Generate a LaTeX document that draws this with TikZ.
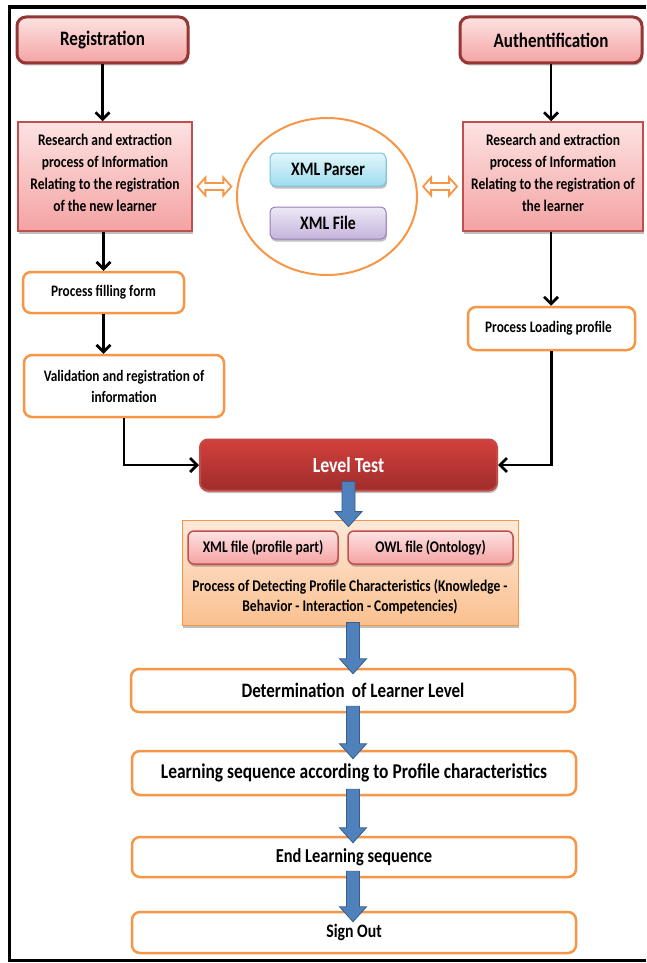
\documentclass[tikz,border=0pt]{standalone}
\usepackage{fontspec}
\setmainfont{Carlito}[FakeStretch=0.83]
\usetikzlibrary{arrows.meta,shapes.geometric,shadows,calc}

\definecolor{pinktop}{HTML}{FDE2E2}
\definecolor{pinkbot}{HTML}{F4A3A3}
\definecolor{darkred}{HTML}{943634}
\definecolor{redline}{HTML}{C0504D}
\definecolor{orangeline}{HTML}{F79646}
\definecolor{leveltop}{HTML}{D2403D}
\definecolor{levelbot}{HTML}{A02D2B}
\definecolor{levelline}{HTML}{C24A47}
\definecolor{peachtop}{HTML}{FDE9D9}
\definecolor{peachbot}{HTML}{FAC08F}
\definecolor{cyantop}{HTML}{E3F6FB}
\definecolor{cyanbot}{HTML}{9EDDEE}
\definecolor{cyanline}{HTML}{78C5DA}
\definecolor{lilactop}{HTML}{EEE8F6}
\definecolor{lilacbot}{HTML}{C4B4DC}
\definecolor{lilacline}{HTML}{9580B8}
\definecolor{arrowblue}{HTML}{4F81BD}
\definecolor{arrowedge}{HTML}{385D8A}

\tikzset{
  softshadow/.style={drop shadow={shadow xshift=1pt,shadow yshift=-2.5pt,opacity=0.25,fill=black}},
  headbox/.style={rounded corners=9pt, draw=darkred, line width=3pt,
    top color=pinktop, bottom color=pinkbot, softshadow,
    font=\fontsize{20.5}{24}\selectfont\bfseries, inner sep=0pt},
  resbox/.style={draw=redline, line width=1.5pt, top color=pinktop, bottom color=pinkbot,
    softshadow, align=center, font=\fontsize{16.2}{22}\selectfont\bfseries, inner sep=0pt},
  whitebox/.style={rounded corners=8pt, draw=orangeline, line width=2.5pt, fill=white,
    align=center, font=\fontsize{16}{21}\selectfont\bfseries, inner sep=0pt},
  widebox/.style={whitebox, font=\fontsize{20.5}{24}\selectfont\bfseries},
  levelbox/.style={rounded corners=8pt, draw=levelline, line width=2pt,
    top color=leveltop, bottom color=levelbot, softshadow, text=white,
    font=\fontsize{21.5}{24}\selectfont\bfseries, inner sep=0pt},
  procbox/.style={draw=orangeline, line width=0.8pt, top color=peachtop, bottom color=peachbot,
    softshadow, inner sep=0pt},
  pinkpill/.style={rounded corners=6pt, draw=redline, line width=1.5pt,
    top color=pinktop, bottom color=pinkbot, softshadow,
    font=\fontsize{16.3}{18}\selectfont\bfseries, inner sep=0pt},
  parserbox/.style={rounded corners=5pt, draw=cyanline, line width=1pt,
    top color=cyantop, bottom color=cyanbot, softshadow,
    font=\fontsize{19}{22}\selectfont\bfseries, inner sep=0pt},
  filebox/.style={rounded corners=5pt, draw=lilacline, line width=1pt,
    top color=lilactop, bottom color=lilacbot, softshadow,
    font=\fontsize{19}{22}\selectfont\bfseries, inner sep=0pt},
  flow/.style={draw=black, line width=2.8pt,
    -{Straight Barb[length=7pt,width=14pt,line width=2.8pt]}},
  blockarrow/.style={fill=arrowblue, draw=arrowedge, line width=0.8pt, line join=miter},
  dblarrow/.style={draw=orangeline, fill=white, line width=1.8pt, line join=miter},
}

% hollow two-headed arrow centred on a point
\newcommand\twowayarrow[1]{%
  \draw[dblarrow] ($(#1)+(-17pt,0pt)$) -- ++(8pt,9pt) -- ++(0pt,-5.5pt) -- ++(18pt,0pt)
    -- ++(0pt,5.5pt) -- ++(8pt,-9pt) -- ++(-8pt,-9pt) -- ++(0pt,5.5pt) -- ++(-18pt,0pt)
    -- ++(0pt,-5.5pt) -- cycle;}

% thick blue downward block arrow from #1 to #2
\newcommand\bluearrow[2]{%
  \draw[blockarrow] let \p1=(#1), \p2=(#2) in
    (\x1-6.5pt,\y1) -- (\x1-6.5pt,\y2+15pt) -- (\x1-13.5pt,\y2+15pt) -- (\x1,\y2)
    -- (\x1+13.5pt,\y2+15pt) -- (\x1+6.5pt,\y2+15pt) -- (\x1+6.5pt,\y1) -- cycle;}

\begin{document}
\begin{tikzpicture}[x=1pt,y=-1pt]
\useasboundingbox (0,0) rectangle (646,963);
\fill[white] (0,0) rectangle (646,963);

% outer frame
\draw[line width=3.5pt] (646,7) -- (9.5,7) -- (9.5,960.5) -- (646,960.5);

% entry points
\node[headbox, minimum width=171pt, minimum height=46pt] (reg) at (102.5,40) {Registration};
\node[headbox, minimum width=182pt, minimum height=46pt] (auth) at (551,40) {Authentification};

% information extraction
\node[resbox, minimum width=174pt, minimum height=109pt] (resL) at (105,176.5)
  {Research and extraction\\process of Information\\Relating to the registration\\of the new learner\rule[-7pt]{0pt}{1pt}};
\node[resbox, minimum width=180pt, minimum height=109pt] (resR) at (553,176.5)
  {Research and extraction\\process of Information\\Relating to the registration of\\the learner\rule[-7pt]{0pt}{1pt}};

% XML resources
\node[ellipse, draw=orangeline, line width=2pt, fill=white, minimum width=180pt,
  minimum height=157pt, inner sep=0pt] (ell) at (327,196.5) {};
\node[parserbox, minimum width=116pt, minimum height=33pt] (parser) at (328,169.5) {XML Parser};
\node[filebox, minimum width=116pt, minimum height=32pt] (xfile) at (328,223) {XML File};

\coordinate (dl) at ($(resL.east)!0.5!(ell.west)$);
\coordinate (dr) at ($(ell.east)!0.5!(resR.west)$);
\twowayarrow{dl}
\twowayarrow{dr}

% registration branch
\node[whitebox, minimum width=161pt, minimum height=41pt] (form) at (103.5,292.5) {Process filling form};
\node[whitebox, minimum width=200pt, minimum height=62pt] (valid) at (124,386)
  {Validation and registration of\\information};

% authentification branch
\node[whitebox, minimum width=167pt, minimum height=43pt] (load) at (551.5,328.5) {Process Loading profile\hspace{6pt}};

% level test
\node[levelbox, minimum width=297pt, minimum height=51pt] (level) at (348.5,465) {Level Test};

% profile characteristics
\node[procbox, minimum width=336pt, minimum height=105pt] (proc) at (350,572.5) {};
\node[pinkpill, minimum width=150pt, minimum height=33pt] (xmlp) at (263,547.5) {XML file (profile part)};
\node[pinkpill, minimum width=165pt, minimum height=33pt] (owl) at (430.5,547.5) {OWL file (Ontology)};
\node[align=center, font=\fontsize{16.3}{20}\selectfont\bfseries, inner sep=0pt] (ptext) at (350,597)
  {Process of Detecting Profile Characteristics (Knowledge -\\Behavior - Interaction - Competencies)};

% learning steps
\node[widebox, minimum width=444pt, minimum height=43pt] (det) at (353,690.5) {Determination\, of Learner Level};
\node[widebox, minimum width=444pt, minimum height=44pt, font=\fontsize{21}{24}\selectfont\bfseries] (seq) at (354,773) {Learning sequence according to Profile characteristics};
\node[widebox, minimum width=444pt, minimum height=40pt, font=\fontsize{19.8}{24}\selectfont\bfseries] (endl) at (354,857) {End Learning sequence};
\node[widebox, minimum width=444pt, minimum height=41pt, font=\fontsize{19}{24}\selectfont\bfseries] (out) at (354,932.5) {Sign Out};

% black connectors
\draw[flow] (reg.south) -- (reg.south |- resL.north);
\draw[flow] (auth.south) -- (auth.south |- resR.north);
\draw[flow] (form.north |- resL.south) -- (form.north);
\draw[flow] (form.south) -- (form.south |- valid.north);
\draw[flow] (valid.south) |- (level.west);
\draw[flow] (auth.south |- resR.south) -- (auth.south |- load.north);
\draw[flow] (load.south) |- (level.east);

% blue block arrows
\bluearrow{$(level.south)+(0pt,10pt)$}{$(proc.north)+(0pt,-7pt)$}
\bluearrow{$(proc.south -| det.north)+(0pt,3pt)$}{$(det.north)+(0pt,-6pt)$}
\bluearrow{$(det.south)+(0pt,7pt)$}{$(seq.north -| det.north)+(0pt,-9pt)$}
\bluearrow{$(seq.south -| det.north)+(0pt,7pt)$}{$(endl.north -| det.north)+(0pt,-7pt)$}
\bluearrow{$(endl.south -| det.north)+(0pt,7pt)$}{$(out.north -| det.north)+(0pt,-11pt)$}
\end{tikzpicture}
\end{document}
